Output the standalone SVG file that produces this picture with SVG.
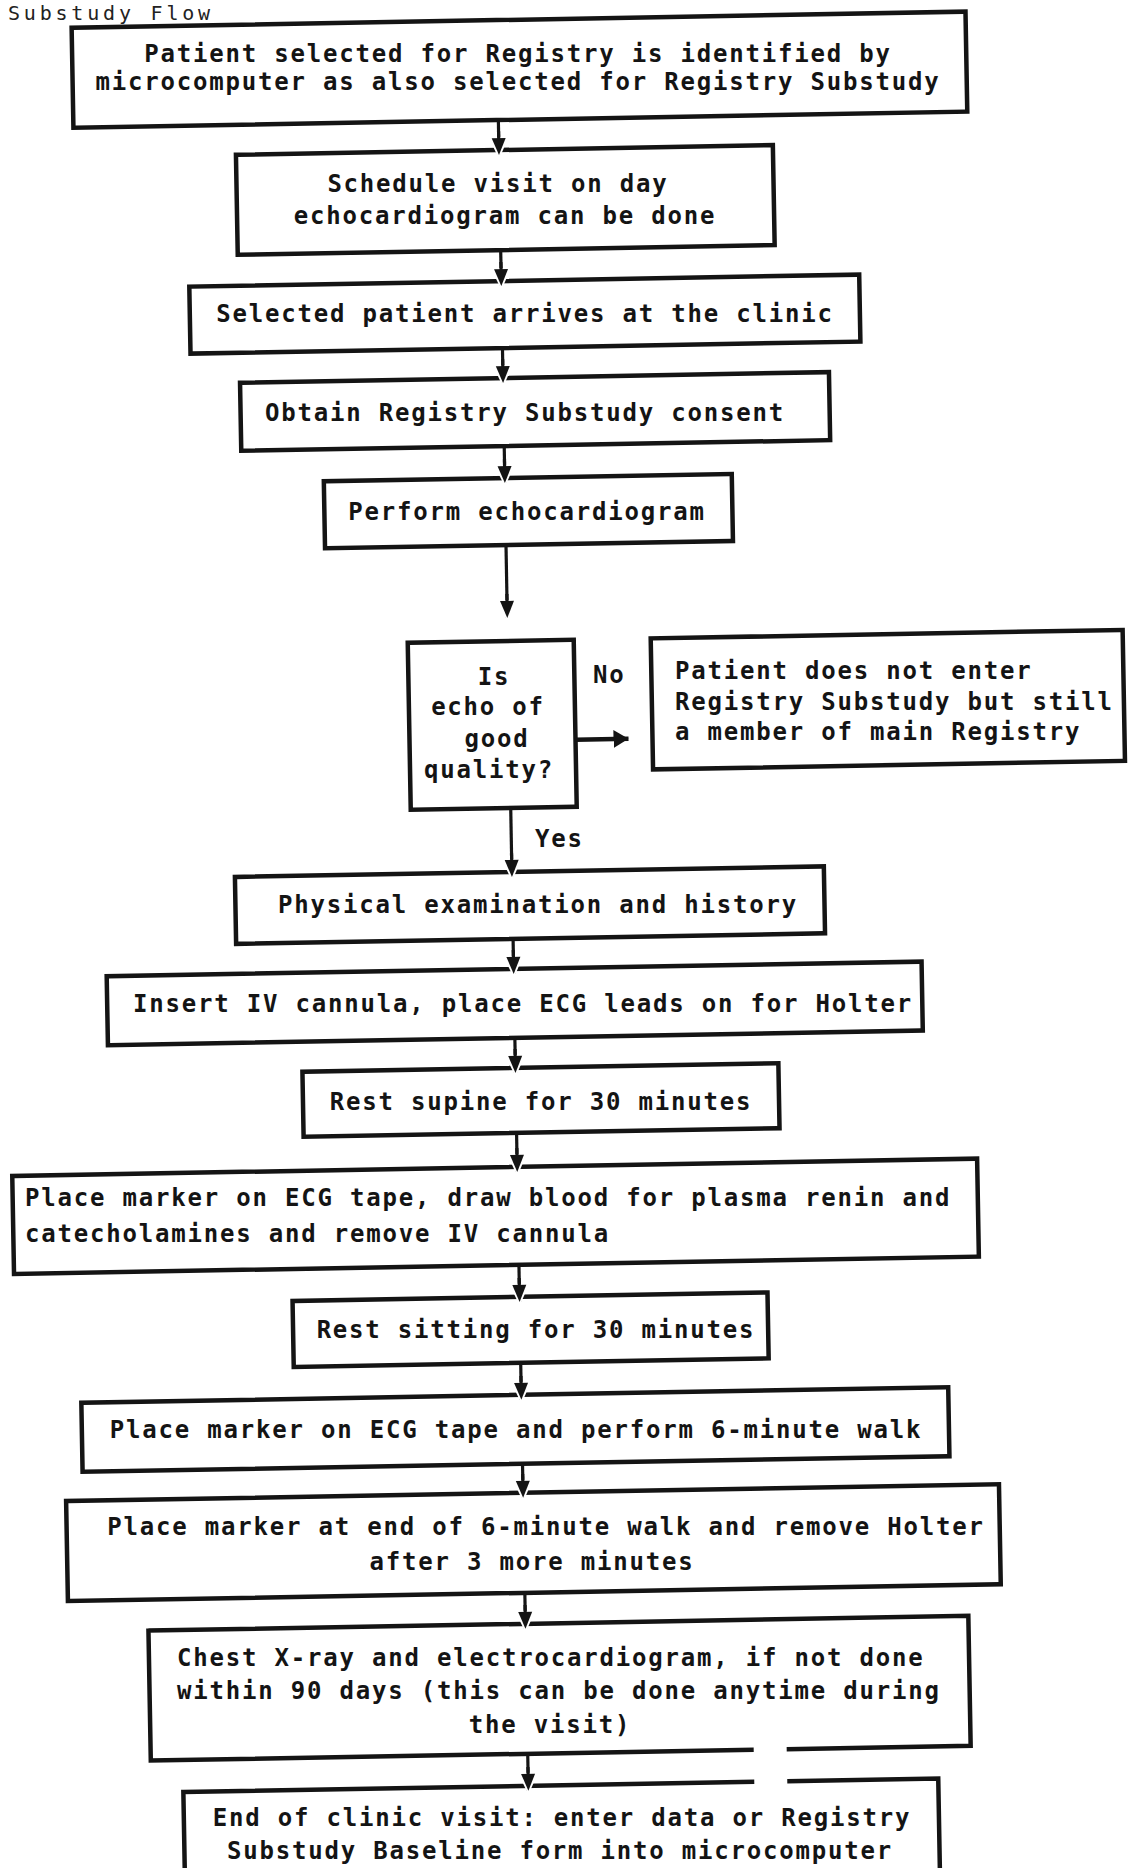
<svg xmlns="http://www.w3.org/2000/svg" width="1130" height="1868" viewBox="0 0 1130 1868">
<style>
.bx{fill:#fff;stroke:#141414;stroke-width:4.5}
.t{font-family:"DejaVu Sans Mono","Liberation Mono",monospace;font-weight:bold;font-size:24px;letter-spacing:1.8px;fill:#141414}
.c{text-anchor:middle}
.ln{stroke:#141414;stroke-width:3.2;fill:none;marker-end:url(#ah)}
.lnh{stroke:#141414;stroke-width:4.5;fill:none;marker-end:url(#ahr)}
.title{font-family:"DejaVu Sans Mono","Liberation Mono",monospace;font-size:20px;letter-spacing:3.8px;fill:#222}
</style>
<defs>
<marker id="ah" markerUnits="userSpaceOnUse" markerWidth="28" markerHeight="22" viewBox="-7 -4 28 22" refX="17" refY="7" orient="auto">
<path d="M-1,-3 L21,7 L-1,17 z" fill="#fff"/>
<rect x="-7" y="5.4" width="9" height="3.2" fill="#141414"/>
<path d="M0,0 L17,7 L0,14 z" fill="#141414"/>
</marker>
<marker id="ahr" markerUnits="userSpaceOnUse" markerWidth="16" markerHeight="20" viewBox="0 0 16 20" refX="15" refY="10" orient="auto">
<path d="M0,1 L15,10 L0,19 z" fill="#141414"/>
</marker>
</defs>
<rect width="1130" height="1868" fill="#fff"/>
<text class="title" x="8" y="19.5">Substudy Flow</text>
<g id="nodes">
<g id="n1"><rect class="bx" transform="rotate(-1.03 565 934)" x="88" y="19" width="894" height="100"/><text class="t c" x="518" y="62">Patient selected for Registry is identified by</text><text class="t c" x="518" y="90">microcomputer as also selected for Registry Substudy</text></g>
<g id="n2"><rect class="bx" transform="rotate(-1.03 565 934)" x="250" y="149" width="537" height="100"/><text class="t c" x="498" y="192">Schedule visit on day</text><text class="t c" x="505" y="224">echocardiogram can be done</text></g>
<g id="n3"><rect class="bx" transform="rotate(-1.03 565 934)" x="201" y="280" width="670" height="67"/><text class="t c" x="525" y="322">Selected patient arrives at the clinic</text></g>
<g id="n4"><rect class="bx" transform="rotate(-1.03 565 934)" x="250" y="377" width="589" height="68"/><text class="t c" x="525" y="421">Obtain Registry Substudy consent</text></g>
<g id="n5"><rect class="bx" transform="rotate(-1.03 565 934)" x="332" y="477" width="408" height="67"/><text class="t c" x="527" y="520">Perform echocardiogram</text></g>
<g id="d1"><rect class="bx" transform="rotate(-1.03 565 934)" x="413" y="640" width="166" height="167"/><text class="t c" x="494" y="685">Is</text><text class="t c" x="488" y="715">echo of</text><text class="t c" x="497" y="747">good</text><text class="t c" x="489" y="778">quality?</text></g>
<g id="n6"><rect class="bx" transform="rotate(-1.03 565 934)" x="656" y="640" width="472" height="131"/><text class="t" x="675" y="679">Patient does not enter</text><text class="t" x="675" y="709.5">Registry Substudy but still</text><text class="t" x="675" y="740">a member of main Registry</text></g>
<g id="n7"><rect class="bx" transform="rotate(-1.03 565 934)" x="236" y="871" width="589" height="67"/><text class="t c" x="538" y="912.5">Physical examination and history</text></g>
<g id="n8"><rect class="bx" transform="rotate(-1.03 565 934)" x="106" y="968" width="815" height="69"/><text class="t c" x="523" y="1011.5">Insert IV cannula, place ECG leads on for Holter</text></g>
<g id="n9"><rect class="bx" transform="rotate(-1.03 565 934)" x="300" y="1067" width="476" height="65"/><text class="t c" x="541" y="1110">Rest supine for 30 minutes</text></g>
<g id="n10"><rect class="bx" transform="rotate(-1.03 565 934)" x="8" y="1166" width="965" height="98"/><text class="t" x="25" y="1206">Place marker on ECG tape, draw blood for plasma renin and</text><text class="t" x="25" y="1242">catecholamines and remove IV cannula</text></g>
<g id="n11"><rect class="bx" transform="rotate(-1.03 565 934)" x="286" y="1296" width="475" height="66"/><text class="t c" x="536" y="1338">Rest sitting for 30 minutes</text></g>
<g id="n12"><rect class="bx" transform="rotate(-1.03 565 934)" x="73" y="1394" width="867" height="69"/><text class="t c" x="516" y="1438">Place marker on ECG tape and perform 6-minute walk</text></g>
<g id="n13"><rect class="bx" transform="rotate(-1.03 565 934)" x="56" y="1492" width="933" height="100"/><text class="t c" x="546" y="1535">Place marker at end of 6-minute walk and remove Holter</text><text class="t c" x="532" y="1569.5">after 3 more minutes</text></g>
<g id="n14"><rect class="bx" transform="rotate(-1.03 565 934)" x="136" y="1623" width="820" height="130" stroke-dasharray="1134 33 2000"/><text class="t" x="177" y="1666">Chest X-ray and electrocardiogram, if not done</text><text class="t" x="177" y="1698.5">within 90 days (this can be done anytime during</text><text class="t c" x="550" y="1732.5">the visit)</text></g>
<g id="n15"><rect class="bx" transform="rotate(-1.03 565 934)" x="168" y="1785" width="755" height="120" stroke-dasharray="571 33 3000"/><text class="t c" x="562" y="1825.5">End of clinic visit: enter data or Registry</text><text class="t c" x="560" y="1859">Substudy Baseline form into microcomputer</text></g>
</g>
<g id="connectors">
<g transform="rotate(-1.03 565 934)">
<path class="ln" d="M513,119 V154"/>
<path class="ln" d="M513,249 V285"/>
<path class="ln" d="M513,347 V382"/>
<path class="ln" d="M513,445 V482"/>
<path class="ln" d="M513,544 V617"/>
<path class="lnh" d="M579,740 H632"/>
<path class="ln" d="M513,807 V876"/>
<path class="ln" d="M513,938 V973"/>
<path class="ln" d="M513,1037 V1072"/>
<path class="ln" d="M513,1132 V1171"/>
<path class="ln" d="M513,1264 V1301"/>
<path class="ln" d="M513,1362 V1399"/>
<path class="ln" d="M513,1463 V1497"/>
<path class="ln" d="M513,1592 V1628"/>
<path class="ln" d="M513,1753 V1790"/>
</g>
<text class="t" x="593" y="683">No</text>
<text class="t" x="535" y="847">Yes</text>
</g>
</svg>
